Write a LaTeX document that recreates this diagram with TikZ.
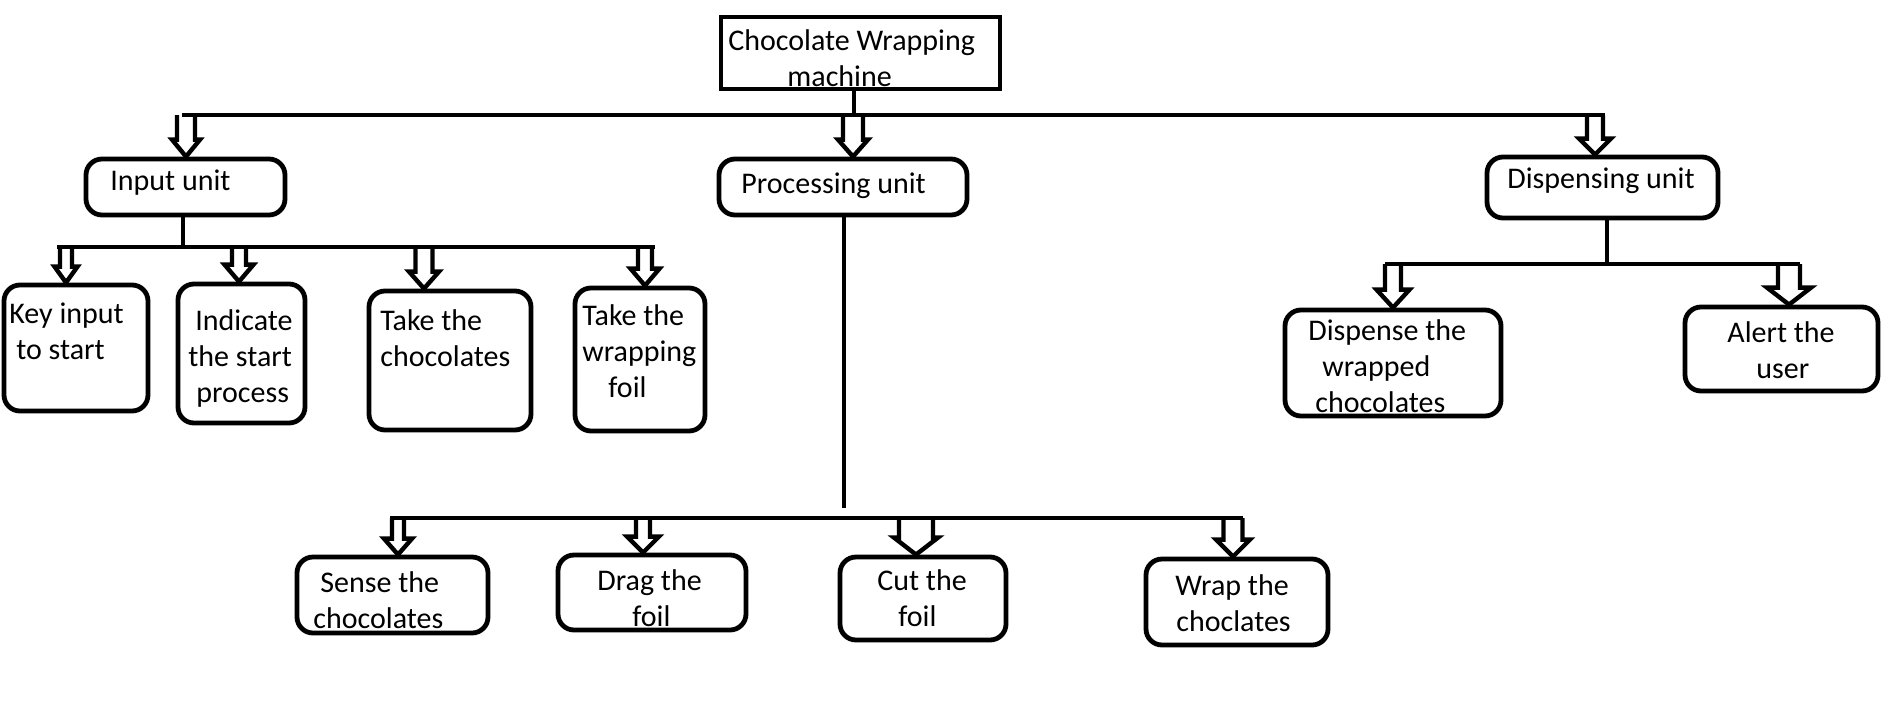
\documentclass[tikz,border=0pt]{standalone}
\usepackage{fontspec}
\setmainfont{Carlito}
\usetikzlibrary{calc}
\tikzset{
  ln/.style={line width=2.4pt},
  sqbox/.style={draw, line width=2.4pt, inner sep=0pt},
  rbox/.style={draw, line width=2.4pt, rounded corners=8pt, inner sep=0pt},
  txt/.style={anchor=north west, align=left, inner sep=0pt, font=\fontsize{15}{18}\selectfont},
  arr/.style={line width=2.2pt, line join=miter},
}
% block arrow: #1 bar coordinate, #2 tip (calc expression), #3 shaft half width, #4 head half width, #5 head length (px)
\newcommand\blk[5]{%
  \draw[arr] let \p1=(#1), \p2=(#2) in
    (\x2-#3*0.5,\y1) -- (\x2-#3*0.5,\y2+#5*0.5) -- (\x2-#4*0.5,\y2+#5*0.5)
    -- (\x2,\y2) -- (\x2+#4*0.5,\y2+#5*0.5) -- (\x2+#3*0.5,\y2+#5*0.5) -- (\x2+#3*0.5,\y1);}
\begin{document}
\begin{tikzpicture}[x=0.5pt,y=-0.5pt]
\useasboundingbox (0,0) rectangle (1900,724);

% boxes
\node[sqbox, minimum width=139.5pt, minimum height=36pt] (top) at (860.5,53) {};
\node[rbox, minimum width=99.5pt, minimum height=28pt] (inp) at (185.5,187) {};
\node[rbox, minimum width=124pt, minimum height=28pt] (proc) at (843,187) {};
\node[rbox, minimum width=115.5pt, minimum height=30.5pt] (disp) at (1602.5,187.5) {};
\node[rbox, minimum width=72pt, minimum height=63pt] (key) at (76,348) {};
\node[rbox, minimum width=63.5pt, minimum height=69.5pt] (ind) at (241.5,353.5) {};
\node[rbox, minimum width=81pt, minimum height=69.5pt] (tchoc) at (450,360.5) {};
\node[rbox, minimum width=65pt, minimum height=71.5pt] (tfoil) at (640,359.5) {};
\node[rbox, minimum width=108pt, minimum height=53pt] (dispw) at (1393,363) {};
\node[rbox, minimum width=96.5pt, minimum height=42pt] (alert) at (1781.5,349) {};
\node[rbox, minimum width=95.5pt, minimum height=38pt] (sense) at (392.5,595) {};
\node[rbox, minimum width=94pt, minimum height=37.5pt] (drag) at (652,592.5) {};
\node[rbox, minimum width=83pt, minimum height=41.5pt] (cut) at (923,598.5) {};
\node[rbox, minimum width=91pt, minimum height=43pt] (wrap) at (1237,602) {};

% texts
\node[txt] (ttop) at (728,22) {\rule{0pt}{14pt}Chocolate Wrapping\\\hspace*{29.5pt}machine};
\node[txt] (tinp) at (110,162) {\rule{0pt}{14pt}Input unit};
\node[txt] (tproc) at (741,165) {\rule{0pt}{14pt}Processing unit};
\node[txt] (tdisp) at (1507,160) {\rule{0pt}{14pt}Dispensing unit};
\node[txt] (tkey) at (9,295) {\rule{0pt}{14pt}Key input\\\hspace*{3.5pt}to start};
\node[txt] (tind) at (188,302) {\rule{0pt}{14pt}\hspace*{3.5pt}Indicate\\the start\\\hspace*{4pt}process};
\node[txt] (ttchoc) at (380,302) {\rule{0pt}{14pt}Take the\\chocolates};
\node[txt] (ttfoil) at (582,297) {\rule{0pt}{14pt}Take the\\wrapping\\\hspace*{13pt}foil};
\node[txt] (tdispw) at (1308,312) {\rule{0pt}{14pt}Dispense the\\\hspace*{7pt}wrapped\\\hspace*{3.5pt}chocolates};
\node[txt] (talert) at (1727,314) {\rule{0pt}{14pt}Alert the\\\hspace*{14.5pt}user};
\node[txt] (tsense) at (313,564) {\rule{0pt}{14pt}\hspace*{3.5pt}Sense the\\chocolates};
\node[txt] (tdrag) at (597,562) {\rule{0pt}{14pt}Drag the\\\hspace*{17.5pt}foil};
\node[txt] (tcut) at (877,562) {\rule{0pt}{14pt}Cut the\\\hspace*{10.5pt}foil};
\node[txt] (twrap) at (1175,567) {\rule{0pt}{14pt}Wrap the\\\hspace*{0.5pt}choclates};

% bar coordinates
\coordinate (tbL) at (182,115);  \coordinate (tbR) at (1605,115); \coordinate (tbM) at (854,115);
\coordinate (ibL) at (57,247);   \coordinate (ibR) at (655,247);  \coordinate (ibM) at (183,247);
\coordinate (dbL) at (1385,264); \coordinate (dbR) at (1800,264); \coordinate (dbM) at (1607,264);
\coordinate (bbL) at (390,518);  \coordinate (bbR) at (1243,518); \coordinate (bbM) at (844,508);

% stems and bars
\draw[ln] (top.south -| tbM) -- (tbM);
\draw[ln] (tbL) -- (tbR);
\draw[ln] (inp.south -| ibM) -- (ibM);
\draw[ln] (ibL) -- (ibR);
\draw[ln] (disp.south -| dbM) -- (dbM);
\draw[ln] (dbL) -- (dbR);
\draw[ln] (proc.south -| bbM) -- (bbM);
\draw[ln] (bbL) -- (bbR);

% block arrows
\blk{tbM}{$(inp.north)+(0.5,0)$}{9}{14}{17}
\blk{tbM}{$(proc.north)+(10,0)$}{10}{15}{17}
\blk{tbM}{$(disp.north)+(-7.5,0)$}{8}{16}{16}
\blk{ibM}{$(key.north)+(-10,0)$}{6}{11.5}{16}
\blk{ibM}{$(ind.north)+(-2.5,0)$}{7}{14.5}{17}
\blk{ibM}{$(tchoc.north)+(-26,0)$}{8.5}{15}{17}
\blk{ibM}{$(tfoil.north)+(5,0)$}{7}{14.5}{17}
\blk{dbM}{$(dispw.north)+(0,0)$}{8}{16.5}{18}
\blk{dbM}{$(alert.north)+(7.5,0)$}{11}{22}{17}
\blk{bbL}{$(sense.north)+(5.5,0)$}{6}{14}{16}
\blk{bbL}{$(drag.north)+(-9,0)$}{7}{16}{16}
\blk{bbL}{$(cut.north)+(-7,0)$}{17}{22}{17}
\blk{bbL}{$(wrap.north)+(-4,0)$}{9.5}{17}{17}
\end{tikzpicture}
\end{document}
